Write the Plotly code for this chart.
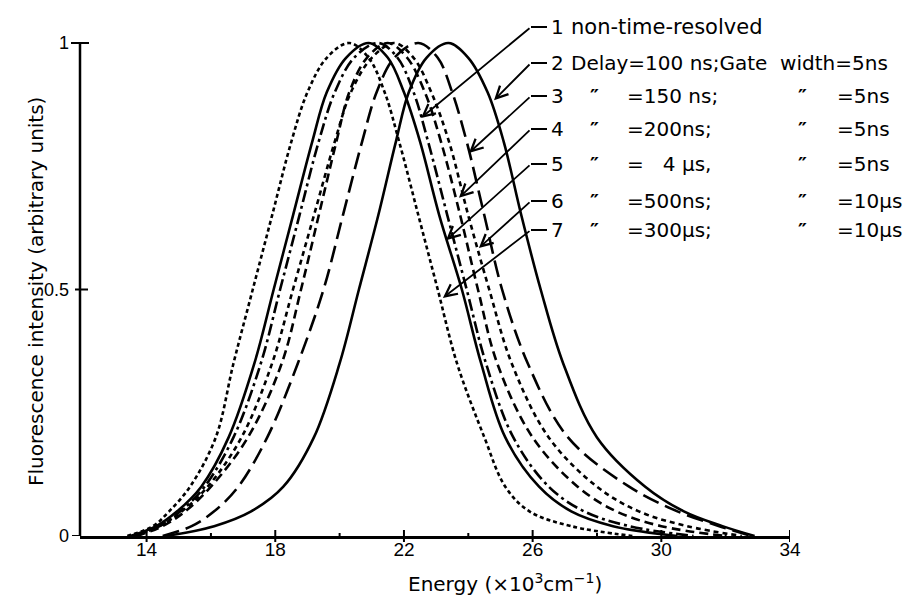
import plotly.graph_objects as go

# ---------------- data ----------------
# intensity levels at which each curve's energy was read (rising side, peak, falling side)
LEVELS = [0, 0.02, 0.05, 0.1, 0.2, 0.35, 0.5, 0.65, 0.8, 0.9, 0.97, 1.0,
          0.97, 0.9, 0.8, 0.65, 0.5, 0.35, 0.2, 0.1, 0.05, 0.02, 0]

# energies (x10^3 cm^-1) of each curve at those levels
E1 = [13.6, 14.4, 15.05, 15.8, 16.7, 17.55, 18.15, 18.75, 19.35, 19.85, 20.45, 21.2,
      21.8, 22.3, 22.75, 23.35, 23.95, 24.55, 25.4, 26.5, 27.6, 29.0, 31.0]
E2 = [14.6, 16.1, 17.25, 18.25, 19.2, 20.0, 20.6, 21.2, 21.75, 22.15, 22.7, 23.38,
      24.0, 24.6, 25.1, 25.65, 26.25, 26.95, 28.0, 29.5, 30.7, 31.9, 32.9]
E3 = [14.5, 15.4, 16.1, 16.85, 17.75, 18.7, 19.5, 20.1, 20.7, 21.15, 21.7, 22.45,
      23.05, 23.5, 23.95, 24.5, 25.05, 25.85, 27.1, 29.0, 30.5, 31.8, 32.8]
E4 = [13.7, 14.5, 15.2, 16.0, 17.15, 18.2, 18.8, 19.35, 19.9, 20.3, 20.85, 21.5,
      22.1, 22.65, 23.15, 23.75, 24.3, 24.9, 26.0, 27.4, 28.6, 30.0, 32.0]
E5 = [13.5, 14.3, 14.95, 15.7, 16.55, 17.35, 17.95, 18.55, 19.15, 19.6, 20.2, 20.9,
      21.5, 22.0, 22.5, 23.1, 23.8, 24.4, 25.15, 26.2, 27.2, 28.5, 30.5]
E6 = [13.6, 14.4, 15.1, 15.9, 16.95, 17.9, 18.55, 19.2, 19.85, 20.35, 21.0, 21.7,
      22.3, 22.85, 23.4, 24.0, 24.65, 25.35, 26.5, 28.0, 29.3, 30.8, 32.5]
E7 = [13.4, 14.2, 14.7, 15.35, 16.15, 16.7, 17.3, 17.9, 18.5, 19.0, 19.6, 20.3,
      20.9, 21.4, 21.85, 22.45, 23.05, 23.65, 24.5, 25.15, 25.9, 27.2, 29.1]

CURVE_IDS = ["1", "2", "3", "4", "5", "6", "7"]
ROW1_TEXT = "non-time-resolved"
ROW2_TEXT = "Delay=100 ns;Gate\u00a0\u00a0width=5ns"
DELAYS = ["=150 ns;", "=200ns;", "=\u00a0\u00a0 4 \u00b5s,", "=500ns;", "=300\u00b5s;"]
GATES = ["=5ns", "=5ns", "=5ns", "=10\u00b5s", "=10\u00b5s"]
DITTO = "<b>\u2033</b>"

# arrow tips (energy, intensity) where each label points
TIP_E = [22.53, 24.80, 24.02, 23.71, 23.31, 24.33, 23.21]
TIP_Y = [0.848, 0.884, 0.777, 0.686, 0.600, 0.584, 0.483]

X_TICKS = [14, 18, 22, 26, 30, 34]
X_MINOR = [16, 20, 24, 28, 32]
Y_TICKS = [0, 0.5, 1]
Y_TICK_TEXT = ["0", "0.5", "1"]

X_TITLE = "Energy (\u00d710<sup>3</sup>cm<sup>\u22121</sup>)"
Y_TITLE = "Fluorescence intensity (arbitrary units)"

# ---------------- styling ----------------
W, H = 904, 595
L, R, T, B = 80, 790, 13, 536
XR = [11.93, 34]
YR = [0, (B - T) / 493.0]

def px(x):
    return (x - L) / (R - L)

def py(y):
    return (B - y) / (B - T)

def data_to_px(e, v):
    return L + (e - XR[0]) / (XR[1] - XR[0]) * (R - L), B - (v - YR[0]) / (YR[1] - YR[0]) * (B - T)

styles = ["12px,4px,3px,4px", "solid", "17px,7px", "9px,5px", "solid", "5px,4px", "4px,3px"]
series = [E1, E2, E3, E4, E5, E6, E7]

fig = go.Figure()
for cid, e, d in zip(CURVE_IDS, series, styles):
    fig.add_trace(go.Scatter(x=e, y=LEVELS, mode="lines", name=cid,
                             line=dict(color="black", width=2.6, dash=d,
                                       shape="spline", smoothing=1.0),
                             hoverinfo="skip"))

shapes = []
# y axis line (0 to 1 only)
shapes.append(dict(type="line", xref="paper", yref="y", x0=0, x1=0, y0=0, y1=1,
                   line=dict(color="black", width=2.5)))
# y ticks
for v, a, b in zip(Y_TICKS, [-8, -5, -9], [0, 8, 9]):
    shapes.append(dict(type="line", xref="paper", yref="y", xsizemode="pixel", xanchor=0,
                       x0=a, x1=b, y0=v, y1=v, line=dict(color="black", width=2)))
# x ticks
for v in X_TICKS:
    shapes.append(dict(type="line", xref="x", yref="paper", ysizemode="pixel", yanchor=0,
                       x0=v, x1=v, y0=-6, y1=6, line=dict(color="black", width=2)))
for v in X_MINOR:
    shapes.append(dict(type="line", xref="x", yref="paper", ysizemode="pixel", yanchor=0,
                       x0=v, x1=v, y0=-3, y1=3, line=dict(color="black", width=2)))

row_y = [27, 63, 96, 129, 164, 201, 230]
corner_x = 531
font_lab = dict(family="DejaVu Sans", size=20, color="black")
ann = []
for i, cid in enumerate(CURVE_IDS):
    ry = row_y[i]
    shapes.append(dict(type="line", xref="paper", yref="paper", x0=px(corner_x), x1=px(547),
                       y0=py(ry), y1=py(ry), line=dict(color="black", width=2)))
    tx, ty = data_to_px(TIP_E[i], TIP_Y[i])
    ann.append(dict(x=TIP_E[i], y=TIP_Y[i], xref="x", yref="y", text="", showarrow=True,
                    ax=corner_x - tx, ay=ry - ty, arrowhead=5, arrowsize=1.3, arrowwidth=1.8,
                    arrowcolor="black", standoff=0))
    ann.append(dict(x=px(549), y=py(ry), xref="paper", yref="paper", text=cid, showarrow=False,
                    xanchor="left", yanchor="middle", font=font_lab))
    if i == 0:
        ann.append(dict(x=px(569), y=py(ry), xref="paper", yref="paper", text=ROW1_TEXT,
                        showarrow=False, xanchor="left", yanchor="middle",
                        font=dict(family="DejaVu Sans", size=21, color="black")))
    elif i == 1:
        ann.append(dict(x=px(569), y=py(ry), xref="paper", yref="paper", text=ROW2_TEXT,
                        showarrow=False, xanchor="left", yanchor="middle", font=font_lab))
    else:
        j = i - 2
        for xx, txt in [(588, DITTO), (625, DELAYS[j]), (796, DITTO), (835, GATES[j])]:
            ann.append(dict(x=px(xx), y=py(ry), xref="paper", yref="paper", text=txt,
                            showarrow=False, xanchor="left", yanchor="middle", font=font_lab))

ann.append(dict(x=px(505), y=py(583), xref="paper", yref="paper", text=X_TITLE, showarrow=False,
                xanchor="center", yanchor="middle",
                font=dict(family="DejaVu Sans", size=20, color="black")))
ann.append(dict(x=px(36), y=py(292), xref="paper", yref="paper", text=Y_TITLE, showarrow=False,
                xanchor="center", yanchor="middle", textangle=-90,
                font=dict(family="DejaVu Sans", size=20, color="black")))

fig.update_layout(
    width=W, height=H, margin=dict(l=L, r=W - R, t=T, b=H - B),
    paper_bgcolor="white", plot_bgcolor="white", showlegend=False,
    shapes=shapes, annotations=ann,
    xaxis=dict(range=XR, showgrid=False, zeroline=False, showline=True, linecolor="black",
               linewidth=2.5, ticks="", tickvals=X_TICKS, ticktext=[str(v) for v in X_TICKS],
               tickfont=dict(family="Liberation Sans", size=19, color="black"),
               ticklabelstandoff=-6),
    yaxis=dict(range=YR, showgrid=False, zeroline=False, showline=False, ticks="",
               tickvals=Y_TICKS, ticktext=Y_TICK_TEXT,
               tickfont=dict(family="Liberation Sans", size=18, color="black"),
               ticklabelstandoff=10),
)

fig.write_html("out.html", config={"displayModeBar": False},
               post_script="document.body.style.margin='0';document.body.style.padding='0';")
